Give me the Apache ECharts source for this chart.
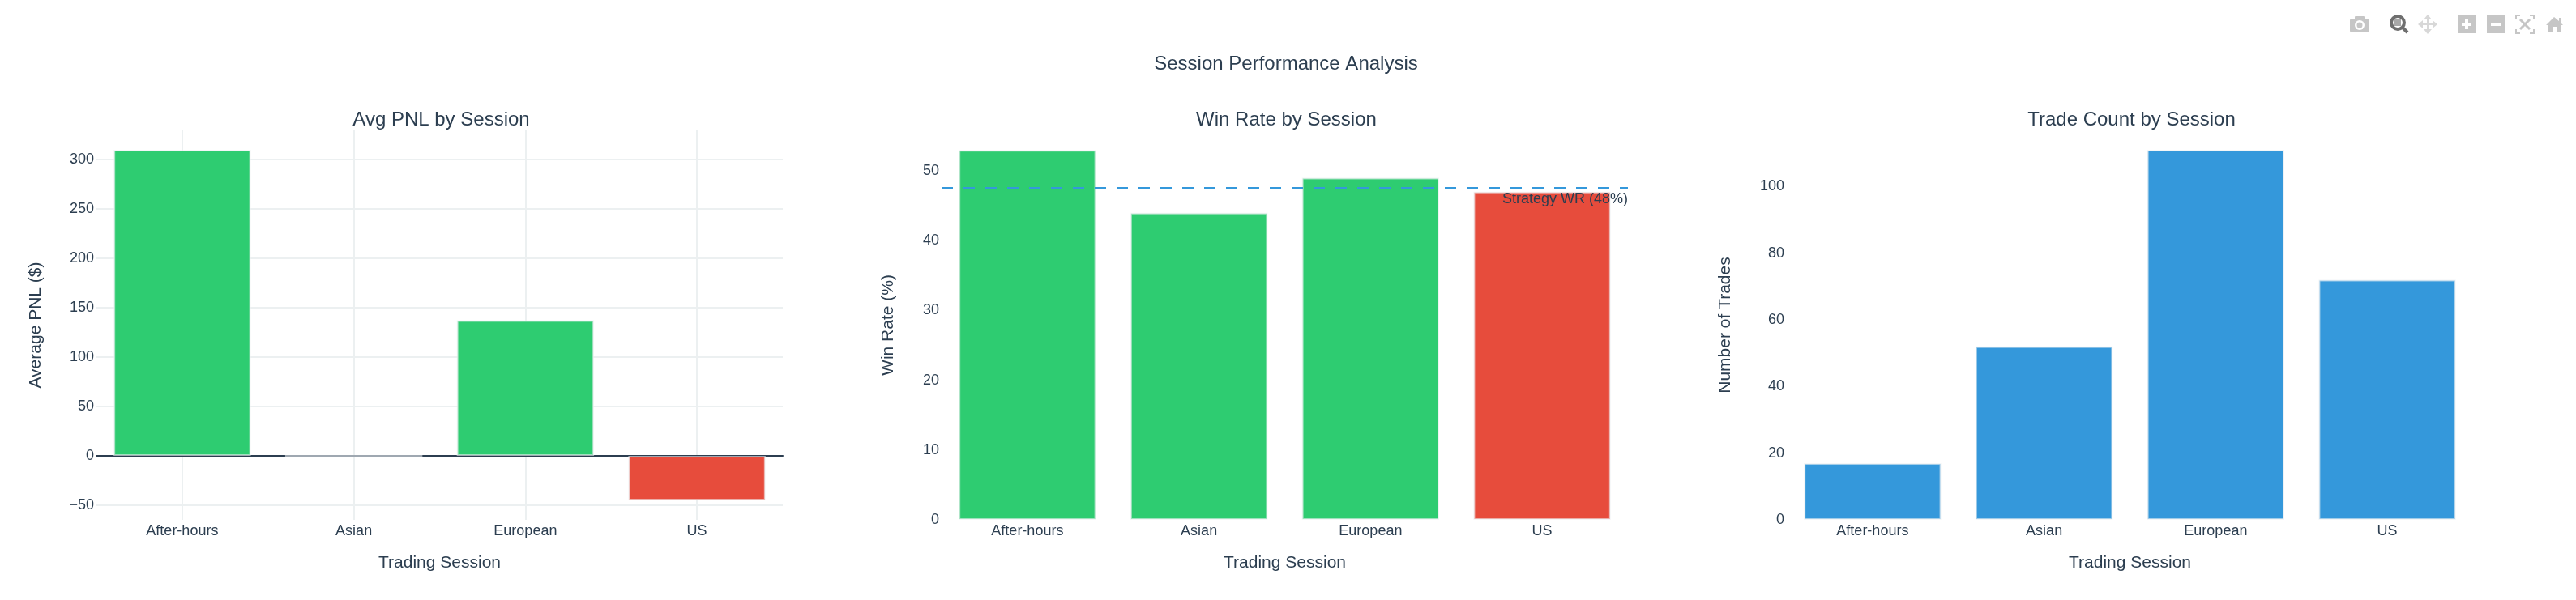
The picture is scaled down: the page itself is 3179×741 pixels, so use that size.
<!DOCTYPE html>
<html>
<head>
<meta charset="utf-8">
<title>Session Performance Analysis</title>
<script src="https://cdn.jsdelivr.net/npm/echarts@6/dist/echarts.min.js"></script>
<style>
    html, body { margin: 0; padding: 0; background: #fff; }
    #chart_main { width: 3179px; height: 741px; }
</style>
</head>
<body>
<div id="chart_main"></div>
<script>
const sessions = ['After-hours', 'Asian', 'European', 'US'];
const avgPnl = [310, 0, 137.5, -45];
const winRate = [53, 44, 49, 47];
const tradeCount = [17, 52, 111, 72];
const strategyWinRate = 47.65;

const pnlTicks = [-50, 0, 50, 100, 150, 200, 250, 300];
const winRateTicks = [0, 10, 20, 30, 40, 50];
const tradeTicks = [0, 20, 40, 60, 80, 100];

const GREEN = '#2ecc71';
const RED = '#e74c3c';
const BLUE = '#3498db';
const TEXT = '#2c3e50';
const GRID = '#ecf0f1';
const FONT = '"Liberation Sans", Arial, sans-serif';
const ICON = '#c6c6c6';
const ICON_ACTIVE = '#6f6f6f';

function coloured(values, colors) {
    return values.map((v, i) => ({ value: v, itemStyle: { color: colors[i] } }));
}

const panels = [
    {
        title: 'Avg PNL by Session', yName: 'Average PNL ($)', left: 119, nameGap: 64,
        min: -64.7, max: 329.7, ticks: pnlTicks, showGrid: true,
        data: coloured(avgPnl, [GREEN, GREEN, GREEN, RED])
    },
    {
        title: 'Win Rate by Session', yName: 'Win Rate (%)', left: 1162, nameGap: 55,
        min: 0, max: 55.8, ticks: winRateTicks, showGrid: false,
        data: coloured(winRate, [GREEN, GREEN, GREEN, RED])
    },
    {
        title: 'Trade Count by Session', yName: 'Number of Trades', left: 2205, nameGap: 65,
        min: 0, max: 116.8, ticks: tradeTicks, showGrid: false,
        data: coloured(tradeCount, [BLUE, BLUE, BLUE, BLUE])
    }
];

// plotly style mode bar, decoration only
function modeBar() {
    const fill = c => ({ fill: c });
    const line = (c, w) => ({ stroke: c, lineWidth: w, fill: 'none' });
    return [
        // camera
        { type: 'rect', shape: { x: 2900, y: 23, width: 24, height: 17, r: 2 }, style: fill(ICON) },
        { type: 'rect', shape: { x: 2906, y: 20, width: 12, height: 4, r: 1 }, style: fill(ICON) },
        { type: 'circle', shape: { cx: 2912, cy: 31, r: 6 }, style: fill('#fff') },
        { type: 'circle', shape: { cx: 2912, cy: 31, r: 3.5 }, style: fill(ICON) },
        // zoom (active)
        { type: 'circle', shape: { cx: 2959, cy: 28, r: 8 }, style: line(ICON_ACTIVE, 4) },
        { type: 'rect', shape: { x: 2955, y: 24, width: 8, height: 8 }, style: fill('#a8a8a8') },
        { type: 'line', shape: { x1: 2965, y1: 34, x2: 2971, y2: 40 }, style: line(ICON_ACTIVE, 4) },
        // pan
        { type: 'line', shape: { x1: 2985, y1: 30, x2: 3007, y2: 30 }, style: line('#d8d8d8', 2) },
        { type: 'line', shape: { x1: 2996, y1: 19, x2: 2996, y2: 41 }, style: line('#d8d8d8', 2) },
        { type: 'polygon', shape: { points: [[2996, 18], [2991, 24], [3001, 24]] }, style: fill('#d8d8d8') },
        { type: 'polygon', shape: { points: [[2996, 42], [2991, 36], [3001, 36]] }, style: fill('#d8d8d8') },
        { type: 'polygon', shape: { points: [[2984, 30], [2990, 25], [2990, 35]] }, style: fill('#d8d8d8') },
        { type: 'polygon', shape: { points: [[3008, 30], [3002, 25], [3002, 35]] }, style: fill('#d8d8d8') },
        // zoom in
        { type: 'rect', shape: { x: 3033, y: 19, width: 22, height: 22 }, style: fill(ICON) },
        { type: 'rect', shape: { x: 3038, y: 28, width: 12, height: 4 }, style: fill('#fff') },
        { type: 'rect', shape: { x: 3042, y: 24, width: 4, height: 12 }, style: fill('#fff') },
        // zoom out
        { type: 'rect', shape: { x: 3069, y: 19, width: 22, height: 22 }, style: fill(ICON) },
        { type: 'rect', shape: { x: 3074, y: 28, width: 12, height: 4 }, style: fill('#fff') },
        // autoscale
        { type: 'polyline', shape: { points: [[3105, 24], [3105, 19], [3110, 19]] }, style: line(ICON, 2) },
        { type: 'polyline', shape: { points: [[3122, 19], [3127, 19], [3127, 24]] }, style: line(ICON, 2) },
        { type: 'polyline', shape: { points: [[3105, 36], [3105, 41], [3110, 41]] }, style: line(ICON, 2) },
        { type: 'polyline', shape: { points: [[3122, 41], [3127, 41], [3127, 36]] }, style: line(ICON, 2) },
        { type: 'line', shape: { x1: 3110, y1: 24, x2: 3122, y2: 36 }, style: line(ICON, 3) },
        { type: 'line', shape: { x1: 3122, y1: 24, x2: 3110, y2: 36 }, style: line(ICON, 3) },
        // home
        { type: 'polygon', shape: { points: [[3142, 31], [3152, 21], [3158, 26], [3158, 22], [3161, 22], [3161, 29], [3163, 31], [3160, 31], [3160, 39], [3155, 39], [3155, 33], [3150, 33], [3150, 39], [3145, 39], [3145, 31]] }, style: fill(ICON) }
    ].map(el => Object.assign({ silent: true }, el));
}

const option = {
    animation: false,
    backgroundColor: '#fff',
    textStyle: { fontFamily: FONT },
    title: [{
        text: 'Session Performance Analysis',
        left: 1582, top: 62, textAlign: 'center',
        textStyle: { fontSize: 24, fontWeight: 'normal', color: TEXT, fontFamily: FONT }
    }].concat(panels.map(p => ({
        text: p.title,
        left: p.left + 420.5, top: 131, textAlign: 'center',
        textStyle: { fontSize: 24, fontWeight: 'normal', color: TEXT, fontFamily: FONT }
    }))),
    grid: panels.map(p => ({ left: p.left, top: 161, width: 847, height: 481 })),
    xAxis: panels.map((p, i) => ({
        type: 'category',
        gridIndex: i,
        data: sessions,
        name: 'Trading Session',
        nameLocation: 'middle',
        nameGap: 43,
        nameTextStyle: { fontSize: 21, color: TEXT, fontFamily: FONT },
        axisLine: { show: p.showGrid, onZero: true, lineStyle: { color: TEXT, width: 2 } },
        axisTick: { show: false, alignWithLabel: true },
        axisLabel: { fontSize: 18, color: TEXT, margin: 5, fontFamily: FONT, interval: 0 },
        splitLine: { show: p.showGrid, alignWithLabel: true, lineStyle: { color: GRID, width: 2 } }
    })),
    yAxis: panels.map((p, i) => ({
        type: 'value',
        gridIndex: i,
        min: p.min,
        max: p.max,
        name: p.yName,
        nameLocation: 'middle',
        nameGap: p.nameGap,
        nameTextStyle: { fontSize: 21, color: TEXT, fontFamily: FONT },
        axisLine: { show: false },
        axisTick: { show: false, customValues: p.ticks },
        axisLabel: {
            fontSize: 18, color: TEXT, margin: 3, fontFamily: FONT, customValues: p.ticks,
            padding: [2, 0, 0, 0],
            formatter: v => String(v).replace('-', '\u2212')
        },
        splitLine: { show: p.showGrid, lineStyle: { color: GRID, width: 2 } }
    })),
    series: panels.map((p, i) => {
        const s = {
            type: 'bar',
            xAxisIndex: i,
            yAxisIndex: i,
            barWidth: '80%',
            data: p.data,
            itemStyle: { borderColor: 'rgba(236,240,241,0.6)', borderWidth: 2 }
        };
        if (i === 1) {
            s.markLine = {
                silent: true,
                symbol: 'none',
                data: [{ yAxis: strategyWinRate }],
                lineStyle: { color: BLUE, type: [14, 13], width: 2 },
                label: {
                    show: true,
                    position: 'insideEndBottom',
                    formatter: 'Strategy WR (48%)',
                    fontSize: 18, color: TEXT, fontFamily: FONT, distance: [0, 6]
                }
            };
        }
        return s;
    }),
    graphic: { elements: modeBar() }
};

const myChart = echarts.init(document.getElementById('chart_main'));
myChart.setOption(option);
window.addEventListener('resize', function() { myChart.resize(); });
</script>
</body>
</html>
